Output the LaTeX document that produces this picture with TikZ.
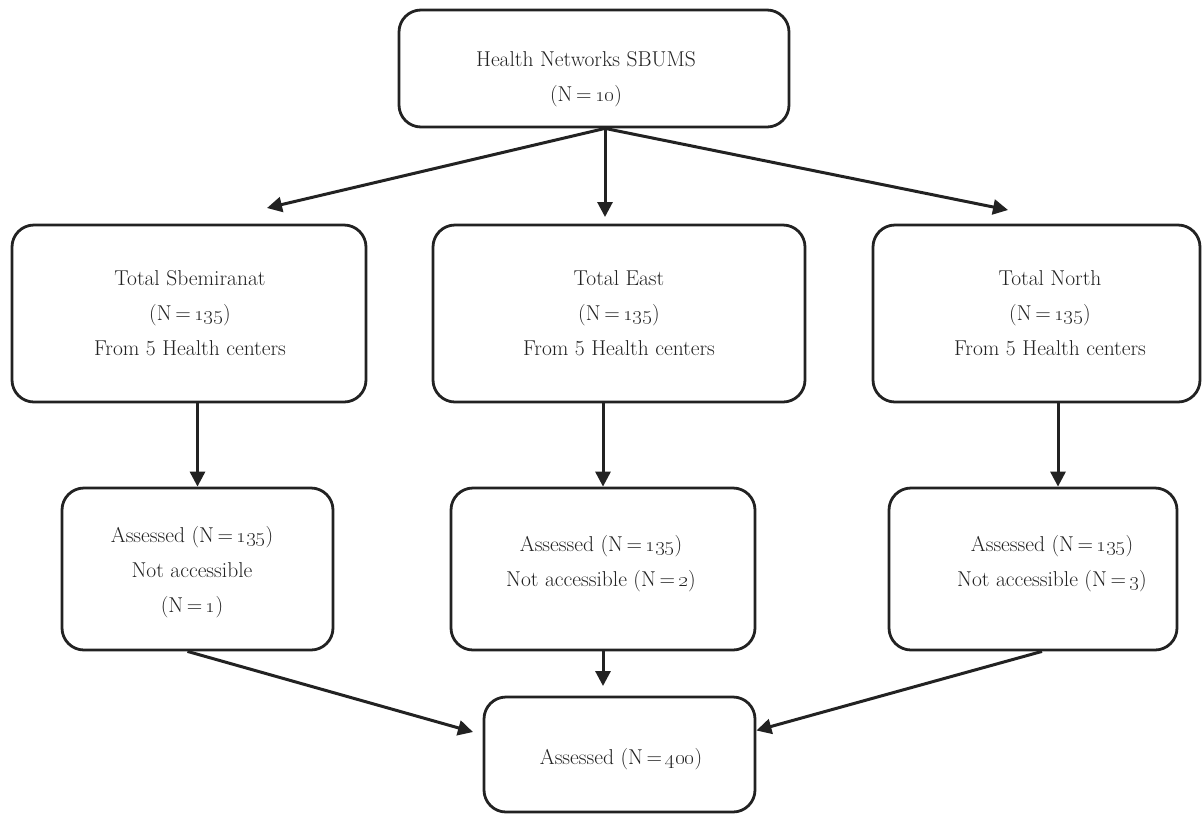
\documentclass[tikz,border=0pt]{standalone}
\usetikzlibrary{arrows.meta}
\definecolor{ink}{HTML}{222222}
\newcommand{\osn}[1]{\oldstylenums{#1}}
\begin{document}
\begin{tikzpicture}[x=1pt,y=-1pt,
  box/.style={draw=ink, line width=2.8pt, rounded corners=22pt, inner sep=0pt},
  txt/.style={text=ink, align=center, font=\fontsize{21.5}{35}\selectfont, inner sep=0pt},
  arr/.style={draw=ink, line width=3pt, -{Triangle[length=15pt,width=15pt]}}]
\useasboundingbox (0,0) rectangle (1204,815);

% boxes
\node[box, minimum width=390pt, minimum height=117pt] (top) at (594,68.5) {};
\node[box, minimum width=354pt, minimum height=177pt] (L2) at (189,313.5) {};
\node[box, minimum width=372pt, minimum height=177pt] (M2) at (619,313.5) {};
\node[box, minimum width=327pt, minimum height=177pt] (R2) at (1036.5,313.5) {};
\node[box, minimum width=271pt, minimum height=162pt] (L3) at (197.5,569) {};
\node[box, minimum width=304pt, minimum height=162pt] (M3) at (603,569) {};
\node[box, minimum width=288pt, minimum height=162pt] (R3) at (1033,569) {};
\node[box, minimum width=271pt, minimum height=115pt] (B) at (619.5,754.5) {};

% texts
\node[txt] (topT) at (586,79) {Health Networks SBUMS\\(N\,=\,\osn{10})};
\node[txt] (L2T) at (190,313) {Total Sbemiranat\\(N\,=\,\osn{135})\\From 5 Health centers};
\node[txt] (M2T) at (619,313) {Total East\\(N\,=\,\osn{135})\\From 5 Health centers};
\node[txt] (R2T) at (1050,313) {Total North\\(N\,=\,\osn{135})\\From 5 Health centers};
\node[txt] (L3T) at (192,572) {Assessed (N\,=\,\osn{135})\\Not accessible\\(N\,=\,\osn{1})};
\node[txt] (M3T) at (601,564) {Assessed (N\,=\,\osn{135})\\Not accessible (N\,=\,\osn{2})};
\node[txt] (R3T) at (1052,564) {Assessed (N\,=\,\osn{135})\\Not accessible (N\,=\,\osn{3})};
\node[txt] (BT) at (621,759) {Assessed (N\,=\,\osn{400})};

% free arrow ends
\coordinate (tipL) at (267,208);
\coordinate (tipM) at (605,217);
\coordinate (tipR) at (1008,210);
\coordinate (tipB) at (603,686);
\coordinate (tipBL) at (473,732);

% connectors
\draw[arr] ([xshift=11pt]top.south) -- (tipL);
\draw[arr] ([xshift=11pt]top.south) -- (tipM);
\draw[arr] ([xshift=11pt]top.south) -- (tipR);
\draw[arr] (L2.south -| L3.north) -- (L3.north);
\draw[arr] (M2.south -| M3.north) -- (M3.north);
\draw[arr] ([xshift=25pt]R3.north |- R2.south) -- ([xshift=25pt]R3.north);
\draw[arr] ([xshift=-10pt]L3.south) -- (tipBL);
\draw[arr] (M3.south) -- (tipB);
\draw[arr] ([xshift=9pt]R3.south) -- ([yshift=24pt]B.east);
\end{tikzpicture}
\end{document}
